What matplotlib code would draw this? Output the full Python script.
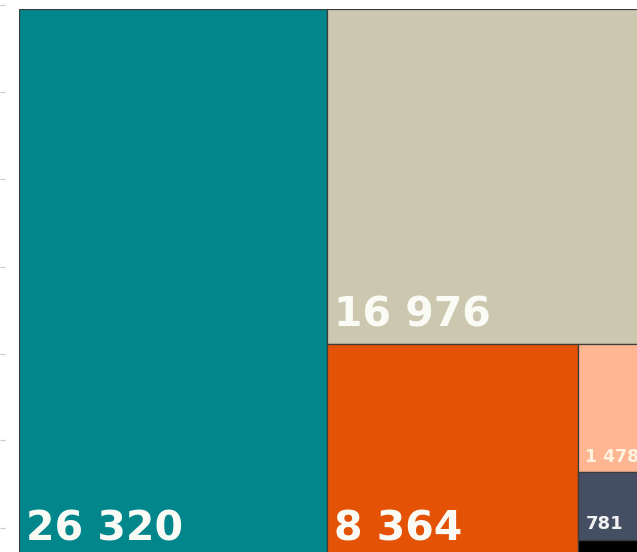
import matplotlib.pyplot as plt
from matplotlib.patches import Rectangle

# treemap values (largest first), the last block is too small to carry a label
values = [26320, 16976, 8364, 1478, 781, 211]
labels = ["26 320", "16 976", "8 364", "1 478", "781", ""]
colors = ["#00868b", "#ccc8b0", "#e35205", "#fdb592", "#444f63", "#000000"]
label_sizes = [29.5, 29.5, 29.5, 12.5, 13, 8]
label_colors = ["#fbfbf6", "#fbfbf6", "#fbfbf6", "#fff3e0", "#f2f2f2", "white"]

# faint dashes on the left edge
edge_ticks = [5, 92, 179, 267, 354, 440, 528]

FIG_W, FIG_H = 637, 552
BOX_W, BOX_H = 633.6, 549.0  # treemap box in pixels; it runs past the figure edge
BOX_LEFT, BOX_TOP = 19, 9


def worst(row, side):
    s = sum(row)
    return max(max(side * side * r / (s * s), s * s / (side * side * r)) for r in row)


def layout_row(row, x, y, w, h):
    s = sum(row)
    rects = []
    if w >= h:
        # column on the left
        cw = s / h
        cy = y
        for r in row:
            rh = r / cw
            rects.append((x, cy, cw, rh))
            cy += rh
        return rects, (x + cw, y, w - cw, h)
    # row along the top
    rh = s / w
    cx = x
    for r in row:
        rw = r / rh
        rects.append((cx, y, rw, rh))
        cx += rw
    return rects, (x, y + rh, w, h - rh)


def squarify(sizes, x, y, w, h):
    rects = []
    sizes = list(sizes)
    while sizes:
        side = min(w, h)
        row = [sizes.pop(0)]
        while sizes and worst(row + [sizes[0]], side) <= worst(row, side):
            row.append(sizes.pop(0))
        placed, (x, y, w, h) = layout_row(row, x, y, w, h)
        rects.extend(placed)
    return rects


scale = BOX_W * BOX_H / sum(values)
rects = squarify([v * scale for v in values], 0, 0, BOX_W, BOX_H)

fig = plt.figure(figsize=(FIG_W / 100, FIG_H / 100), dpi=100)

bg = fig.add_axes([0, 0, 1, 1])
bg.set_xlim(0, FIG_W)
bg.set_ylim(FIG_H, 0)
bg.set_yticks(edge_ticks)
bg.tick_params(axis="y", direction="in", length=3.8, width=0.9, color="#c8c8c8",
               labelleft=False)
bg.set_xticks([])
for sp in bg.spines.values():
    sp.set_visible(False)

ax = fig.add_axes([BOX_LEFT / FIG_W, (FIG_H - BOX_TOP - BOX_H) / FIG_H,
                   BOX_W / FIG_W, BOX_H / FIG_H])
ax.set_xlim(0, BOX_W)
ax.set_ylim(BOX_H, 0)
ax.axis("off")

for (x, y, w, h), c, lab, fs, lc in zip(rects, colors, labels, label_sizes, label_colors):
    ax.add_patch(Rectangle((x, y), w, h, facecolor=c, edgecolor="#3c3c3c", linewidth=0.9))
    if lab:
        pad_y = 12.5 if fs > 20 else 7.5
        ax.annotate(lab, (x, y + h), xytext=(5, pad_y), textcoords="offset points",
                    ha="left", va="baseline", fontsize=fs, fontweight="bold",
                    color=lc, family="DejaVu Sans", annotation_clip=False)

fig.savefig("out.png", dpi=100)
plt.close(fig)
